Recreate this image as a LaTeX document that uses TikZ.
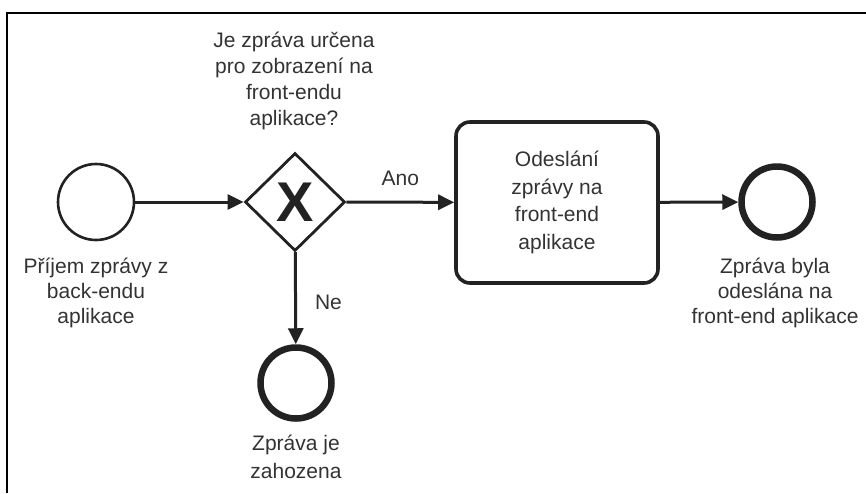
\documentclass[tikz,border=0pt]{standalone}
\usepackage{fontspec}
\setmainfont{Liberation Sans}
\usetikzlibrary{arrows.meta, shapes.geometric, positioning}

\definecolor{ink}{HTML}{222222}
\definecolor{txtgray}{HTML}{333333}

\begin{document}
\begin{tikzpicture}[x=1pt, y=-1pt]
	\tikzset{ev/.style={circle, draw=ink, line width=2.6pt, minimum size=76pt, inner sep=0}}
	\tikzset{evend/.style={circle, draw=ink, line width=6.5pt, minimum size=71pt, inner sep=0}}
	\tikzset{gw/.style={diamond, draw=ink, line width=2.8pt, minimum width=100pt, minimum height=98pt, inner sep=0, text=ink, font=\fontsize{56}{56}\selectfont\bfseries}}
	\tikzset{task/.style={rectangle, rounded corners=14pt, draw=ink, line width=3.6pt, minimum width=202pt, minimum height=161pt, align=center, text=txtgray, font=\fontsize{21}{27.5}\selectfont}}
	\tikzset{lbl/.style={align=center, text=txtgray, inner sep=0, font=\fontsize{21}{25}\selectfont}}
	\tikzset{flow/.style={-{Triangle[length=16pt, width=15pt]}, draw=ink, line width=3pt}}
	\useasboundingbox (0,0) rectangle (866,493);
	% frame
	\draw[line width=2.5pt] (7,493) -- (7,13) -- (866,13);
	% process
	\node[ev] at (96,202) (s) {};
	\node[gw] at (295,202) (g) {X};
	\node[task] at (557,202.5) (t) {Odeslání\\zprávy na\\front-end\\aplikace};
	\node[evend] at (777,202) (e1) {};
	\node[evend] at (296,383) (e2) {};
	% labels
	\node[lbl] at (96,293) (ls) {Příjem zprávy z\\back-endu\\aplikace};
	\node[lbl, font=\fontsize{21}{26}\selectfont] at (294,81) (lg) {Je zpráva určena\\pro zobrazení na\\front-endu\\aplikace?};
	\node[lbl] at (775,293) (le1) {Zpráva byla\\odeslána na\\front-end aplikace};
	\node[lbl, font=\fontsize{21}{28}\selectfont] at (296,457) (le2) {Zpráva je\\zahozena};
	% flows
	\draw[flow] (s) -- (g);
	\draw[flow] (g) -- node[lbl, above=15pt] {Ano} (t);
	\draw[flow] (t) -- (e1);
	\draw[flow] (g) -- node[lbl, right=18pt, pos=0.55] {Ne} (e2);
\end{tikzpicture}
\end{document}
